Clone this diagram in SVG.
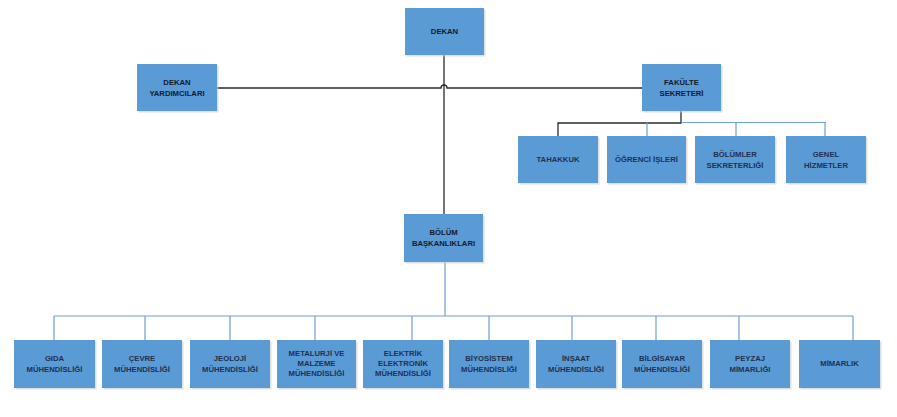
<svg xmlns="http://www.w3.org/2000/svg" width="897" height="417" viewBox="0 0 897 417">
<defs>
<style>
.box{fill:#5b9bd5;}
.sh{fill:#c9c9c9;opacity:0.6;}
.t{font-family:"Liberation Sans",Arial,sans-serif;font-size:7.7px;font-weight:bold;text-anchor:middle;fill:#111a2e;}
.tb{font-family:"Liberation Sans",Arial,sans-serif;font-size:7.7px;font-weight:bold;text-anchor:middle;fill:#1f3050;}
.k{fill:none;stroke:#2b2b2b;stroke-width:1.3;}
.b{fill:none;stroke:#6f9fd2;stroke-width:1.2;}
</style>
</defs>
<rect width="897" height="417" fill="#ffffff"/>
<g id="connectors">
<path class="k" d="M444,55 V214"/>
<path class="k" d="M217,88 H441 A3,3 0 0 1 447,88 H642"/>
<path class="k" d="M681,111 V123 H558 V136"/>
<path class="b" d="M681,122.5 H826 M647,122.5 V136 M736,122.5 V136 M825,122.5 V136"/>
<path class="b" d="M445,262 V316 M54,316 H853 M54,316 V340 M145,316 V340 M230,316 V340 M315,316 V340 M412,316 V340 M489,316 V340 M572,316 V340 M656,316 V340 M739,316 V340 M853,316 V340"/>
</g>
<g id="dekan">
<rect class="sh" x="406.5" y="9.5" width="79" height="47"/>
<rect class="box" x="405" y="8" width="79" height="47"/>
<text class="t" x="444.5" y="34">DEKAN</text>
</g>
<g id="dekan-yardimcilari">
<rect class="sh" x="138.5" y="65.5" width="80" height="47"/>
<rect class="box" x="137" y="64" width="80" height="47"/>
<text class="t" x="177" y="85">DEKAN</text>
<text class="t" x="177" y="96">YARDIMCILARI</text>
</g>
<g id="fakulte-sekreteri">
<rect class="sh" x="643.5" y="65.5" width="79" height="47"/>
<rect class="box" x="642" y="64" width="79" height="47"/>
<text class="t" x="681.5" y="85">FAKÜLTE</text>
<text class="t" x="681.5" y="96">SEKRETERİ</text>
</g>
<g id="tahakkuk">
<rect class="sh" x="519.5" y="137.5" width="80" height="47"/>
<rect class="box" x="518" y="136" width="80" height="47"/>
<text class="tb" x="558" y="162">TAHAKKUK</text>
</g>
<g id="ogrenci-isleri">
<rect class="sh" x="608.5" y="137.5" width="79" height="47"/>
<rect class="box" x="607" y="136" width="79" height="47"/>
<text class="tb" x="646.5" y="162">ÖĞRENCİ İŞLERİ</text>
</g>
<g id="bolumler-sekreterligi">
<rect class="sh" x="696.5" y="137.5" width="80" height="47"/>
<rect class="box" x="695" y="136" width="80" height="47"/>
<text class="tb" x="735" y="157">BÖLÜMLER</text>
<text class="tb" x="735" y="168">SEKRETERLIĞİ</text>
</g>
<g id="genel-hizmetler">
<rect class="sh" x="787.5" y="137.5" width="80" height="47"/>
<rect class="box" x="786" y="136" width="80" height="47"/>
<text class="tb" x="826" y="157">GENEL</text>
<text class="tb" x="826" y="168">HİZMETLER</text>
</g>
<g id="bolum-baskanliklari">
<rect class="sh" x="405.5" y="215.5" width="79" height="48"/>
<rect class="box" x="404" y="214" width="79" height="48"/>
<text class="t" x="443.5" y="235">BÖLÜM</text>
<text class="t" x="443.5" y="246">BAŞKANLIKLARI</text>
</g>
<g id="gida">
<rect class="sh" x="15.5" y="341.5" width="81" height="48"/>
<rect class="box" x="14" y="340" width="81" height="48"/>
<text class="tb" x="54.5" y="361">GIDA</text>
<text class="tb" x="54.5" y="372">MÜHENDİSLİĞİ</text>
</g>
<g id="cevre">
<rect class="sh" x="103.5" y="341.5" width="80" height="48"/>
<rect class="box" x="102" y="340" width="80" height="48"/>
<text class="tb" x="142" y="361">ÇEVRE</text>
<text class="tb" x="142" y="372">MÜHENDİSLİĞİ</text>
</g>
<g id="jeoloji">
<rect class="sh" x="191.5" y="341.5" width="80" height="48"/>
<rect class="box" x="190" y="340" width="80" height="48"/>
<text class="tb" x="230" y="361">JEOLOJİ</text>
<text class="tb" x="230" y="372">MÜHENDİSLİĞİ</text>
</g>
<g id="metalurji">
<rect class="sh" x="278.5" y="341.5" width="79" height="48"/>
<rect class="box" x="277" y="340" width="79" height="48"/>
<text class="tb" x="316.5" y="356">METALURJİ VE</text>
<text class="tb" x="316.5" y="366">MALZEME</text>
<text class="tb" x="316.5" y="376">MÜHENDİSLİĞİ</text>
</g>
<g id="elektrik">
<rect class="sh" x="364.5" y="341.5" width="80" height="48"/>
<rect class="box" x="363" y="340" width="80" height="48"/>
<text class="tb" x="403" y="356">ELEKTRİK</text>
<text class="tb" x="403" y="366">ELEKTRONİK</text>
<text class="tb" x="403" y="376">MÜHENDİSLİĞİ</text>
</g>
<g id="biyosistem">
<rect class="sh" x="450.5" y="341.5" width="80" height="48"/>
<rect class="box" x="449" y="340" width="80" height="48"/>
<text class="tb" x="489" y="361">BİYOSİSTEM</text>
<text class="tb" x="489" y="372">MÜHENDİSLİĞİ</text>
</g>
<g id="insaat">
<rect class="sh" x="537.5" y="341.5" width="80" height="48"/>
<rect class="box" x="536" y="340" width="80" height="48"/>
<text class="tb" x="576" y="361">İNŞAAT</text>
<text class="tb" x="576" y="372">MÜHENDİSLİĞİ</text>
</g>
<g id="bilgisayar">
<rect class="sh" x="623.5" y="341.5" width="80" height="48"/>
<rect class="box" x="622" y="340" width="80" height="48"/>
<text class="tb" x="662" y="361">BİLGİSAYAR</text>
<text class="tb" x="662" y="372">MÜHENDİSLİĞİ</text>
</g>
<g id="peyzaj">
<rect class="sh" x="711.5" y="341.5" width="80" height="48"/>
<rect class="box" x="710" y="340" width="80" height="48"/>
<text class="tb" x="750" y="361">PEYZAJ</text>
<text class="tb" x="750" y="372">MİMARLIĞI</text>
</g>
<g id="mimarlik">
<rect class="sh" x="800.5" y="341.5" width="81" height="48"/>
<rect class="box" x="799" y="340" width="81" height="48"/>
<text class="tb" x="839.5" y="366">MİMARLIK</text>
</g>
</svg>
